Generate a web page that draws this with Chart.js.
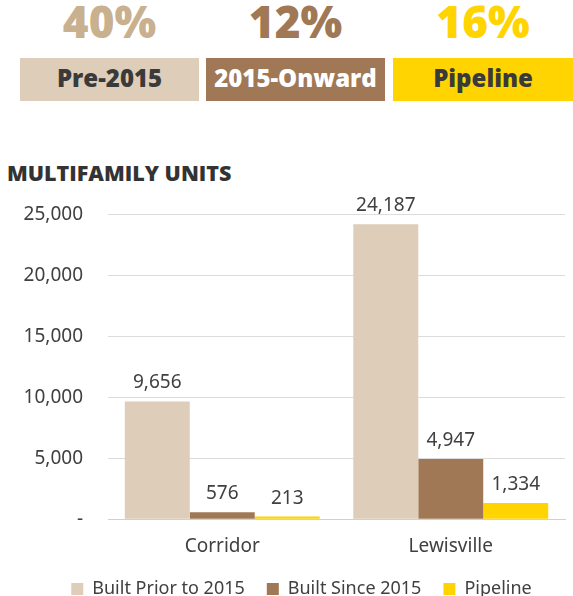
<!DOCTYPE html>
<html>
<head>
<meta charset="utf-8">
<script src="https://cdn.jsdelivr.net/npm/chart.js@4/dist/chart.umd.min.js"></script>
<style>
  html, body { margin: 0; padding: 0; background: #fff; }
  body { width: 573px; height: 596px; position: relative; overflow: hidden; font-family: "Noto Sans", sans-serif; }
  .pct { position: absolute; top: -1px; text-align: center; font: 800 44px "Open Sans", sans-serif; line-height: 44px; }
  .box { position: absolute; top: 58px; height: 43px; text-align: center; font: 800 24px "Open Sans", sans-serif; line-height: 40px; }
  .title { position: absolute; left: 7px; top: 158px; font: 800 21.5px "Open Sans", sans-serif; color: #333; }
  #wrap { position: absolute; left: 0; top: 178px; width: 573px; height: 438px; }
</style>
</head>
<body>
<div id="header"></div>
<div class="title">MULTIFAMILY UNITS</div>
<div id="wrap"><canvas id="c"></canvas></div>
<script>
const categories = ["Corridor", "Lewisville"];
const seriesNames = ["Built Prior to 2015", "Built Since 2015", "Pipeline"];
const builtPrior2015 = [9656, 24187];
const builtSince2015 = [576, 4947];
const pipeline = [213, 1334];
const yTicks = [0, 5000, 10000, 15000, 20000, 25000];
const summaryPercents = ["40%", "12%", "16%"];
const summaryLabels = ["Pre-2015", "2015-Onward", "Pipeline"];

const colors = ["#ddcdb9", "#a07855", "#ffd400"];
const pctColors = ["#c9b08f", "#a07855", "#ffd400"];
const boxText = ["#3a3a3a", "#ffffff", "#3a3a3a"];
const boxLeft = [20, 206, 393];
const boxWidth = [179, 179, 180];

// Summary header: percentages above colored labels
const header = document.getElementById("header");
summaryPercents.forEach((p, i) => {
  const pct = document.createElement("div");
  pct.className = "pct";
  pct.style.left = boxLeft[i] + "px";
  pct.style.width = boxWidth[i] + "px";
  pct.style.color = pctColors[i];
  pct.textContent = p;
  header.appendChild(pct);
  const box = document.createElement("div");
  box.className = "box";
  box.style.left = boxLeft[i] + "px";
  box.style.width = boxWidth[i] + "px";
  box.style.background = colors[i];
  box.style.color = boxText[i];
  box.textContent = summaryLabels[i];
  header.appendChild(box);
});

const FONT = '"Noto Sans", sans-serif';

// Value labels above each bar
const valueLabels = {
  id: "valueLabels",
  afterDatasetsDraw(chart) {
    const ctx = chart.ctx;
    ctx.save();
    ctx.font = '19px ' + FONT;
    ctx.fillStyle = "#404040";
    ctx.textAlign = "center";
    ctx.textBaseline = "bottom";
    chart.data.datasets.forEach((ds, di) => {
      chart.getDatasetMeta(di).data.forEach((bar, i) => {
        ctx.fillText(ds.data[i].toLocaleString("en-US"), bar.x, bar.y - 9);
      });
    });
    ctx.restore();
  }
};

// Pull the legend row closer to the category labels and centre it under the bars
const legendShift = {
  id: "legendShift",
  afterLayout(chart) {
    const lg = chart.legend;
    const dy = 8, dx = 19;
    lg.top -= dy;
    lg.bottom -= dy;
    lg.left += dx;
    lg.right += dx;
  }
};

const seriesData = [builtPrior2015, builtSince2015, pipeline];
new Chart(document.getElementById("c"), {
  type: "bar",
  data: {
    labels: categories,
    datasets: seriesNames.map((name, i) => ({
      label: name,
      data: seriesData[i],
      backgroundColor: colors[i],
      borderWidth: 0,
      categoryPercentage: 0.853,
      barPercentage: 1.0
    }))
  },
  options: {
    responsive: true,
    maintainAspectRatio: false,
    animation: false,
    layout: { padding: { top: 0, right: 8, left: 0, bottom: 0 } },
    plugins: {
      tooltip: { enabled: false },
      legend: {
        position: "bottom",
        labels: {
          boxWidth: 12,
          boxHeight: 12,
          padding: 22,
          color: "#404040",
          font: { size: 18, family: FONT }
        }
      }
    },
    scales: {
      x: {
        grid: { display: false },
        border: { color: "#d0d0d0" },
        ticks: { color: "#404040", padding: 8, font: { size: 19, family: FONT } }
      },
      y: {
        min: 0,
        max: 25000,
        afterBuildTicks(scale) { scale.ticks = yTicks.map(v => ({ value: v })); },
        afterFit(scale) { scale.width = 108; },
        grid: { color: "#dcdcdc", drawTicks: false },
        border: { display: false },
        ticks: {
          padding: 25,
          color: "#404040",
          font: { size: 19, family: FONT },
          callback: v => v === 0 ? "-" : v.toLocaleString("en-US")
        }
      }
    }
  },
  plugins: [valueLabels, legendShift]
});
</script>
</body>
</html>
